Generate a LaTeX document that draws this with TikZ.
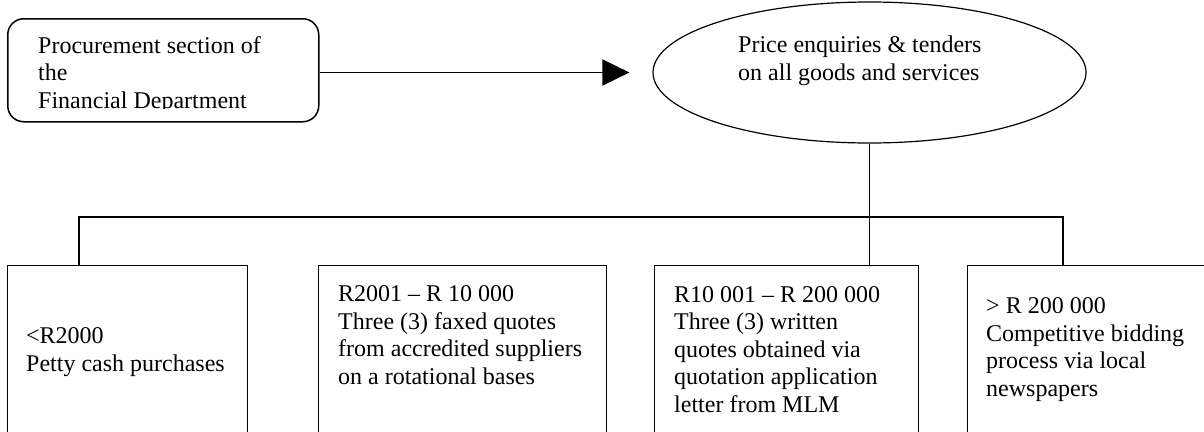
\documentclass[tikz,border=0pt]{standalone}
\usepackage{fontspec}
\setmainfont{Liberation Serif}
\usetikzlibrary{arrows.meta,shapes.geometric}
\begin{document}
\begin{tikzpicture}[x=1pt,y=-1pt,
  every node/.style={font=\fontsize{24}{27.4}\selectfont},
  boxst/.style={draw,line width=1.2pt,rectangle,anchor=north west,inner sep=0pt},
  txt/.style={anchor=base west,align=left,inner sep=0pt},
  conn/.style={line width=1.2pt},
  arr/.style={line width=1.8pt,-{Triangle[length=27pt,width=26pt]},shorten >=23pt}]
\useasboundingbox (0,0) rectangle (1204,431);
\clip (0,0) rectangle (1204,431);
% top left rounded box
\node[boxst,rounded corners=16pt,line width=1.5pt,minimum width=311pt,minimum height=103pt] (pbox) at (7,18) {};
\begin{scope}
\clip (7,18) rectangle (318,108);
\node[txt] (ptxt) at (38,108) {Procurement section of\\the\\Financial Department};
\end{scope}
% ellipse
\node[draw,ellipse,line width=1.2pt,inner sep=0pt,minimum width=433pt,minimum height=141pt] (pe) at (869.5,72.5) {};
\node[txt] (petxt) at (738,80) {Price enquiries \& tenders\\on all goods and services};
% arrow
\draw[arr] (pbox.east |- pe.west) -- (pe.west);
% bottom boxes
\node[boxst,minimum width=240pt,minimum height=220pt] (b1) at (7,265) {};
\node[boxst,minimum width=288pt,minimum height=220pt] (b2) at (318,265) {};
\node[boxst,minimum width=264pt,minimum height=220pt] (b3) at (654,265) {};
\node[boxst,minimum width=400pt,minimum height=220pt] (b4) at (967,265) {};
\node[txt] (t1) at (26,371) {<R2000\\Petty cash purchases};
\node[txt] (t2) at (338,384) {R2001 -- R 10 000\\Three (3) faxed quotes\\from accredited suppliers\\on a rotational bases};
\node[txt] (t3) at (674,412) {R10 001 -- R 200 000\\Three (3) written\\quotes obtained via\\quotation application\\letter from MLM};
\node[txt] (t4) at (986,396) {> R 200 000\\Competitive bidding\\process via local\\newspapers};
% connectors
\coordinate (j1) at (79,217);
\coordinate (j2) at (1063,217);
\draw[conn] (j1 |- b1.north) -- (j1) -- (j2) -- (j2 |- b4.north);
\draw[conn] (pe.south) -- (pe.south |- b3.north);
\end{tikzpicture}
\end{document}
